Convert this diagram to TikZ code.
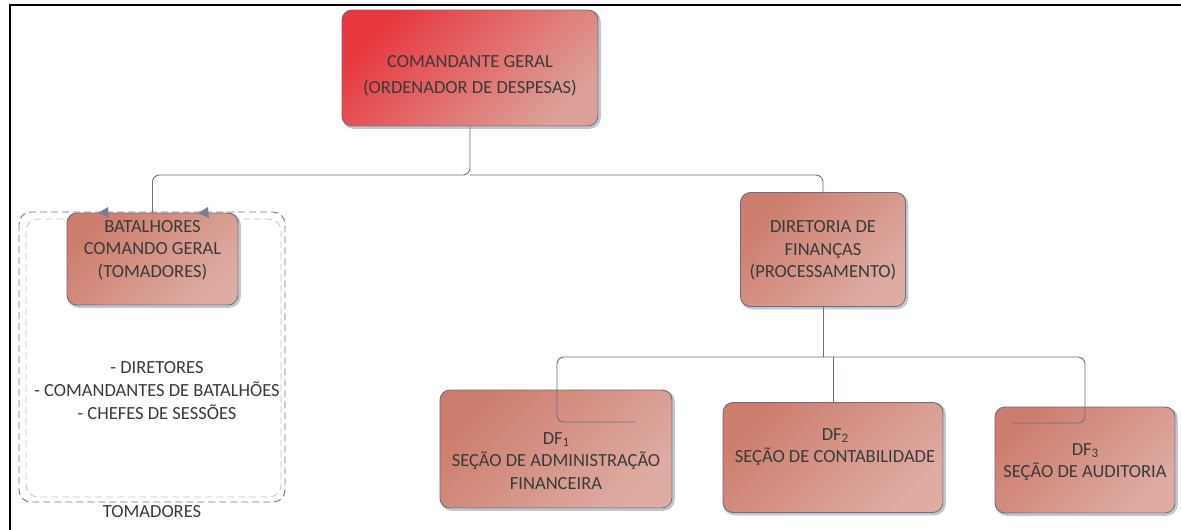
\documentclass[tikz,border=0pt]{standalone}
\usepackage{fontspec}
\setmainfont{Carlito}
\usetikzlibrary{calc}
\definecolor{txtc}{HTML}{3A3A3A}
\definecolor{bordc}{HTML}{6B6E80}
\definecolor{connc}{HTML}{6A7085}
\definecolor{cgA}{HTML}{E8383F}
\definecolor{cgM}{HTML}{E5535A}
\definecolor{cgB}{HTML}{DCA098}
\definecolor{bxA}{HTML}{CD7D6D}
\definecolor{bxM}{HTML}{D28A7D}
\definecolor{bxB}{HTML}{DEACA3}
\definecolor{dashc}{HTML}{707488}
\tikzset{
  boxbase/.style={draw=bordc, line width=0.9pt, rounded corners=10pt, inner sep=0pt,
    top color=bxA, middle color=bxM, bottom color=bxB, shading angle=45,
    preaction={draw=bordc!40, line width=2.5pt, transform canvas={xshift=1.5pt,yshift=-1.5pt}}},
  redbox/.style={boxbase, top color=cgA, middle color=cgM, bottom color=cgB, shading angle=45},
  txt/.style={text=txtc, align=center, inner sep=0pt, font=\fontsize{18.5}{22.5}\selectfont},
  conn/.style={draw=connc, line width=0.9pt, rounded corners=7pt},
  tip/.style={fill=connc!90, draw=none},
}
\newcommand{\sub}[1]{\raisebox{-2pt}{\fontsize{13}{13}\selectfont #1}}
\begin{document}
\begin{tikzpicture}[x=1pt,y=-1pt]
\useasboundingbox (0,0) rectangle (1181,530);
\fill[white] (0,0) rectangle (1181,530);
% frame
\draw[black, line width=2.8pt] (10,530) -- (10,5) -- (1181,5);

% dashed group
\draw[dashc!45, dashed, dash pattern=on 7pt off 4pt, line width=0.8pt, rounded corners=12pt]
  (26,219) rectangle (281,497);
\draw[dashc, dashed, dash pattern=on 7pt off 4pt, line width=0.9pt, rounded corners=12pt]
  (19,212) rectangle (285,502);

% boxes
\node[redbox, minimum width=256pt, minimum height=116pt] (cg) at (470,68) {};
\node[boxbase, minimum width=171pt, minimum height=92pt] (bat) at (152.5,259) {};
\node[boxbase, minimum width=165pt, minimum height=114pt] (dir) at (823,249.5) {};
\node[boxbase, minimum width=232pt, minimum height=118pt] (df1) at (556,449) {};
\node[boxbase, minimum width=220pt, minimum height=110pt] (df2) at (833,457.5) {};
\node[boxbase, minimum width=180pt, minimum height=106pt] (df3) at (1085,460) {};

% texts
\node[txt, font=\fontsize{18.5}{26}\selectfont] (cgt) at (470,76) {COMANDANTE GERAL\\(ORDENADOR DE DESPESAS)};
\node[txt] (batt) at (152.5,250) {BATALHORES\\COMANDO GERAL\\(TOMADORES)};
\node[txt] (dirt) at (823,250.5) {DIRETORIA DE\\FINANÇAS\\(PROCESSAMENTO)};
\node[txt] (df1t) at (556,461) {DF\sub{1}\\SEÇÃO DE ADMINISTRAÇÃO\\FINANCEIRA};
\node[txt] (df2t) at (835,447) {DF\sub{2}\\SEÇÃO DE CONTABILIDADE};
\node[txt] (df3t) at (1085,462) {DF\sub{3}\\SEÇÃO DE AUDITORIA};
\node[txt, font=\fontsize{18.5}{23}\selectfont] (list) at (157,391) {- DIRETORES\\- COMANDANTES DE BATALHÕES\\- CHEFES DE SESSÕES};
\node[txt] (tom) at (152,512) {TOMADORES};

% connectors
\coordinate (bus1) at (470,175);
\draw[conn] (cg.south) -- (bus1) -| (bat.north);
\draw[conn] (bus1) -| (dir.north);
\coordinate (bus2) at (823,357);
\draw[conn, rounded corners=0pt] (dir.south) -- (bus2);
\coordinate (e1) at (635,422);
\coordinate (e3) at (1012,423);
\draw[conn] (bus2) -| (557,422) -- (e1);
\draw[conn] (bus2) -| (1085,423) -- (e3);
\draw[conn, rounded corners=0pt] (bus2 -| df2.north) -- (df2.north);

% arrow tips on BATALHORES
\coordinate (t1) at (98,213);
\coordinate (t2) at (198,213);
\fill[tip] (t1) -- ++(10,-6) -- ++(1,11) -- cycle;
\fill[tip] (t2) -- ++(10,-6) -- ++(1,11) -- cycle;
\end{tikzpicture}
\end{document}
